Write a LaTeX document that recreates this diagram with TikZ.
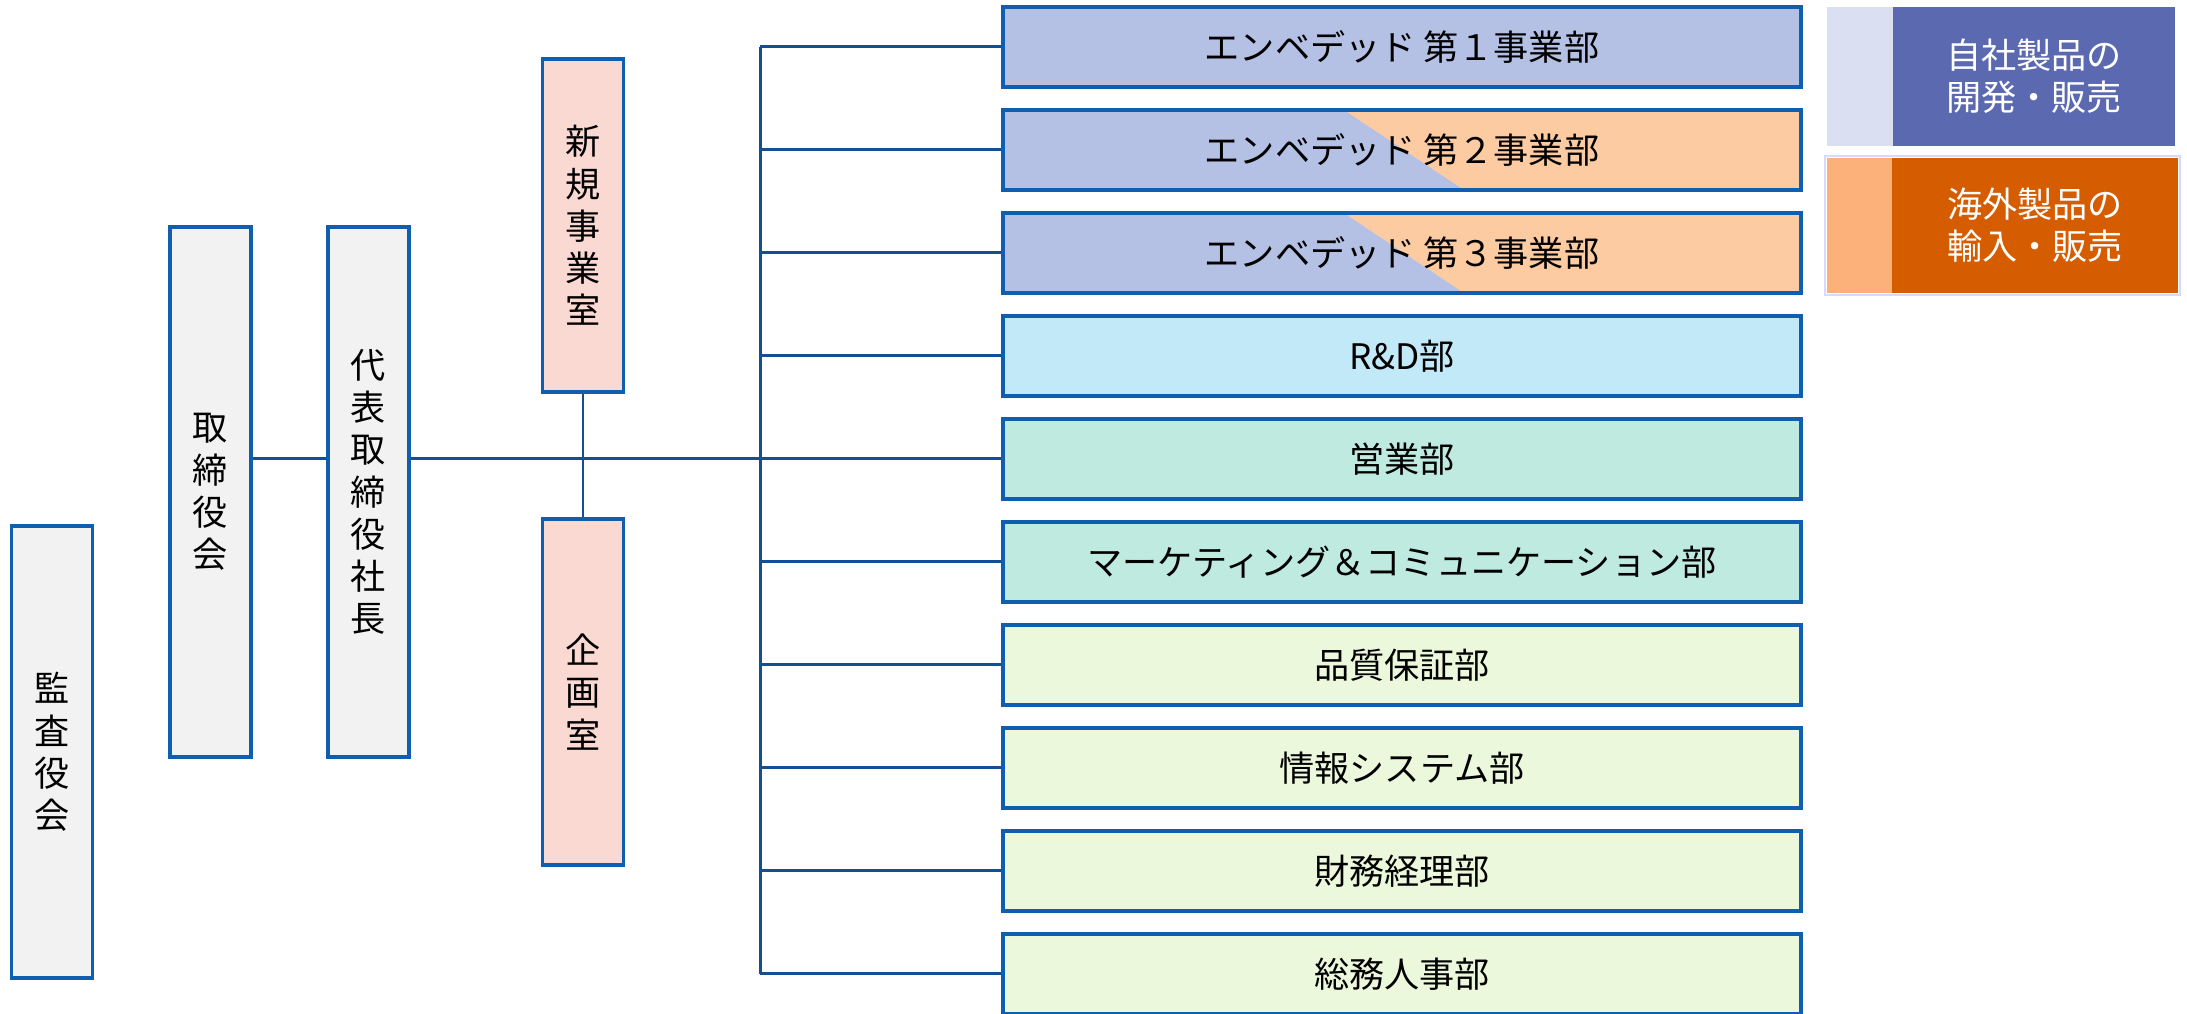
\documentclass[tikz,border=0pt]{standalone}
\usepackage{fontspec}
\setmainfont{Noto Sans CJK JP}

\definecolor{boxline}{HTML}{0F5EB0}
\definecolor{linkblue}{HTML}{124F94}
\definecolor{boxgray}{HTML}{F2F2F2}
\definecolor{staffpink}{HTML}{FAD9D2}
\definecolor{embblue}{HTML}{B4C1E5}
\definecolor{embpeach}{HTML}{FCCBA2}
\definecolor{rdblue}{HTML}{C1E9F8}
\definecolor{salesmint}{HTML}{BEEADF}
\definecolor{admingreen}{HTML}{ECF8DB}
\definecolor{legendlav}{HTML}{DAE0F2}
\definecolor{legendblue}{HTML}{5B6AB0}
\definecolor{legendpeach}{HTML}{FCB07A}
\definecolor{legendorange}{HTML}{D65C00}

\begin{document}
\begin{tikzpicture}[
    vbox/.style={draw=boxline, line width=0.9pt, fill=boxgray, minimum width=0.81cm,
      inner sep=0pt, align=center, font=\fontsize{10}{12}\selectfont},
    dept/.style={draw=boxline, line width=0.9pt, minimum width=7.98cm, minimum height=0.80cm,
      inner sep=0pt, font=\fontsize{10}{12}\selectfont},
    split/.style={path picture={
      \fill[embpeach] ([xshift=3.41cm]path picture bounding box.north west)
        -- (path picture bounding box.north east) -- (path picture bounding box.south east)
        -- ([xshift=4.61cm]path picture bounding box.south west) -- cycle;}},
    legend/.style={inner sep=0pt, align=center, text=white, font=\fontsize{10}{12}\selectfont},
    link/.style={draw=linkblue, line width=0.85pt}
  ]
  \useasboundingbox (0,0) rectangle (21.87,10.14);

  % Auditors, board and president
  \node[vbox, minimum height=4.52cm] (kansa) at (0.52,2.62) {監\\査\\役\\会};
  \node[vbox, minimum height=5.30cm] (torishimari) at (2.105,5.22) {取\\締\\役\\会};
  \node[vbox, minimum height=5.30cm] (daihyo) at (3.685,5.22) {代\\表\\取\\締\\役\\社\\長};

  % Staff offices
  \node[vbox, fill=staffpink, minimum height=3.33cm] (shinki) at (5.83,7.885) {新\\規\\事\\業\\室};
  \node[vbox, fill=staffpink, minimum height=3.46cm] (kikaku) at (5.83,3.22) {企\\画\\室};

  % Departments
  \node[dept, fill=embblue] (emb1) at (14.02,9.67) {エンベデッド 第１事業部};
  \node[dept, fill=embblue, split] (emb2) at (14.02,8.64) {エンベデッド 第２事業部};
  \node[dept, fill=embblue, split] (emb3) at (14.02,7.61) {エンベデッド 第３事業部};
  \node[dept, fill=rdblue] (rd) at (14.02,6.58) {R\&D部};
  \node[dept, fill=salesmint] (eigyo) at (14.02,5.55) {営業部};
  \node[dept, fill=salesmint] (marketing) at (14.02,4.52) {マーケティング＆コミュニケーション部};
  \node[dept, fill=admingreen] (hinshitsu) at (14.02,3.49) {品質保証部};
  \node[dept, fill=admingreen] (joho) at (14.02,2.46) {情報システム部};
  \node[dept, fill=admingreen] (zaimu) at (14.02,1.43) {財務経理部};
  \node[dept, fill=admingreen] (somu) at (14.02,0.40) {総務人事部};

  % Connectors
  \coordinate (trunk) at (7.60,5.55);
  \draw[link] (torishimari.east |- eigyo) -- (daihyo.west |- eigyo);
  \draw[link] (daihyo.east |- eigyo) -- (eigyo.west);
  \draw[link] (shinki) -- (kikaku);
  \draw[link] (trunk |- emb1) -- (trunk |- somu);
  \draw[link] (trunk |- emb1) -- (emb1.west);
  \draw[link] (trunk |- emb2) -- (emb2.west);
  \draw[link] (trunk |- emb3) -- (emb3.west);
  \draw[link] (trunk |- rd) -- (rd.west);
  \draw[link] (trunk |- marketing) -- (marketing.west);
  \draw[link] (trunk |- hinshitsu) -- (hinshitsu.west);
  \draw[link] (trunk |- joho) -- (joho.west);
  \draw[link] (trunk |- zaimu) -- (zaimu.west);
  \draw[link] (trunk |- somu) -- (somu.west);

  % Legend
  \fill[legendlav] (18.27,8.68) rectangle (18.93,10.07);
  \node[legend, fill=legendblue, minimum width=2.82cm, minimum height=1.39cm] (jisha) at (20.34,9.375) {自社製品の\\開発・販売};
  \draw[blue!15, line width=0.4pt] (18.25,7.19) rectangle (21.80,8.58);
  \fill[legendpeach] (18.27,7.21) rectangle (18.92,8.56);
  \node[legend, fill=legendorange, minimum width=2.86cm, minimum height=1.35cm] (kaigai) at (20.35,7.885) {海外製品の\\輸入・販売};
\end{tikzpicture}
\end{document}
